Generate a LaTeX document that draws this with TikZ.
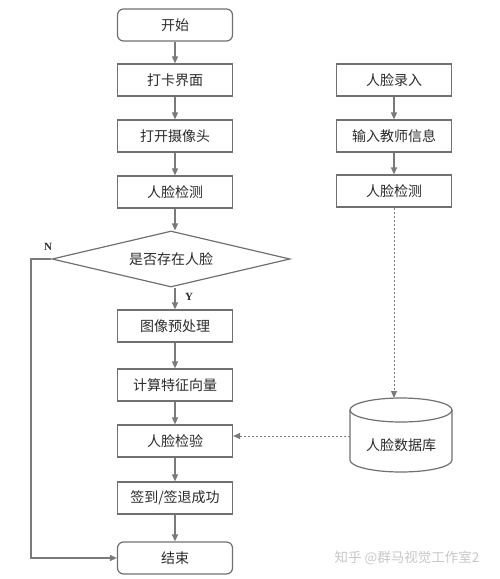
\documentclass[tikz,border=0pt]{standalone}
\usepackage{fontspec}
\setmainfont{Noto Sans CJK SC}
\newfontfamily\latinserif{Liberation Serif}
\usetikzlibrary{arrows.meta,shapes.geometric}
\definecolor{edge}{HTML}{707070}
\definecolor{arr}{HTML}{7A7A7A}
\definecolor{txt}{HTML}{2A2A2A}
\begin{document}
\begin{tikzpicture}[x=1pt,y=-1pt,
  box/.style={draw=edge,line width=1.2pt,minimum width=115pt,minimum height=32pt,inner sep=0pt,text=txt,font=\fontsize{14}{16}\selectfont},
  term/.style={box,rounded corners=6pt},
  dia/.style={draw=edge,line width=1.2pt,diamond,aspect=4.25,minimum width=238pt,minimum height=56pt,inner sep=0pt,text=txt,font=\fontsize{14}{16}\selectfont},
  flow/.style={draw=arr,line width=1.2pt,-{Triangle[length=7pt,width=6pt]}},
  dflow/.style={flow,dash pattern=on 2pt off 2pt,line width=1pt},
  lab/.style={text=txt,font=\latinserif\bfseries\fontsize{11}{13}\selectfont}]
\useasboundingbox (0,0) rectangle (500,579);
% left column
\node[term] (start) at (175,25) {开始};
\node[box] (ui) at (175,80) {打卡界面};
\node[box] (cam) at (175,136) {打开摄像头};
\node[box] (det) at (175,192) {人脸检测};
\node[dia] (q) at (171,259) {是否存在人脸};
\node[box] (pre) at (175,326) {图像预处理};
\node[box] (feat) at (175,385) {计算特征向量};
\node[box] (chk) at (175,441) {人脸检验};
\node[box] (ok) at (175,498) {签到/签退成功};
\node[term] (fin) at (175,558) {结束};
% right column
\node[box] (rin) at (394,80) {人脸录入};
\node[box] (tin) at (394,136) {输入教师信息};
\node[box] (rdet) at (394,191) {人脸检测};
% database cylinder
\node[minimum width=102pt,minimum height=74pt,inner sep=0pt] (db) at (401,437) {};
\draw[draw=edge,line width=1.2pt] (350,410) -- (350,460) arc[start angle=180,end angle=360,x radius=51pt,y radius=12pt] -- (452,410);
\draw[draw=edge,line width=1.2pt] (401,410) ellipse[x radius=51pt,y radius=12pt];
\node[text=txt,font=\fontsize{14}{16}\selectfont] (dbt) at (401,445) {人脸数据库};
\coordinate (dbtop) at (394,398);
\coordinate (dbin) at (350,436);
% connectors
\draw[flow] (start) -- (ui);
\draw[flow] (ui) -- (cam);
\draw[flow] (cam) -- (det);
\draw[flow] (det) -- (det |- q.north);
\draw[flow] (pre |- q.south) -- (pre);
\draw[flow] (pre) -- (feat);
\draw[flow] (feat) -- (chk);
\draw[flow] (chk) -- (ok);
\draw[flow] (ok) -- (fin);
\coordinate (lc) at (31,558);
\draw[flow] (q.west) -| (lc) -- (fin.west);
\draw[flow] (rin) -- (tin);
\draw[flow] (tin) -- (rdet);
\draw[dflow] (rdet) -- (dbtop);
\draw[dflow] (dbin) -- (chk.east |- dbin);
\node[lab] (n) at (48,247) {N};
\node[lab] (y) at (189,297) {Y};
\node[text=black!22,font=\fontsize{13.5}{15}\selectfont] (wm) at (407,558) {知乎 @群马视觉工作室2};
\end{tikzpicture}
\end{document}
